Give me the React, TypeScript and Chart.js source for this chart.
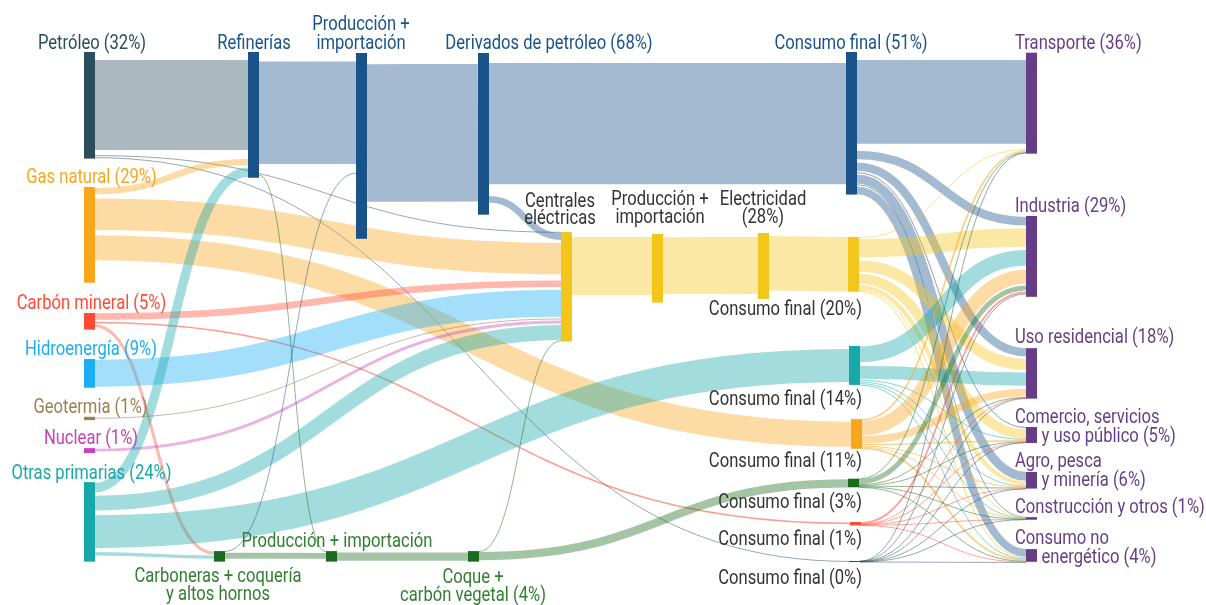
import React, { useEffect, useRef } from "react";
import { Chart, registerables } from "chart.js";

Chart.register(...registerables);

// ---------------- data ----------------
// energy in units of 1% of primary supply
const nodeIds = [
  "petroleo", "gas", "carbon", "hidro", "geotermia", "nuclear", "otras",
  "refinerias", "prodimp1", "derivados", "centrales", "prodimp2", "electricidad",
  "cf51", "cf20", "cf14", "cf11", "cf3", "cf1", "cf0",
  "transporte", "industria", "residencial", "comercio", "agro", "construccion", "noenergetico",
  "carboneras", "prodimp3", "coque",
];
const nodeValues = [
  32.3, 29.0, 5.05, 8.7, 1.0, 1.5, 24.1,
  38.1, 56.3, 49.0, 33.2, 20.8, 20.0,
  43.2, 16.6, 11.8, 9.0, 2.6, 1.0, 0.3,
  30.6, 24.5, 15.3, 4.85, 5.05, 0.8, 3.85,
  3.2, 3.2, 3.2,
];

const flows: [string, string, number][] = [
  ["petroleo", "refinerias", 27.3],
  ["petroleo", "centrales", 0.2],
  ["petroleo", "cf0", 0.25],
  ["gas", "refinerias", 1.9],
  ["gas", "centrales", 9.5],
  ["gas", "cf11", 7.6],
  ["carbon", "centrales", 2.0],
  ["carbon", "cf1", 0.45],
  ["carbon", "carboneras", 0.9],
  ["hidro", "centrales", 8.2],
  ["geotermia", "centrales", 0.3],
  ["nuclear", "centrales", 0.9],
  ["otras", "refinerias", 2.8],
  ["otras", "centrales", 4.5],
  ["otras", "cf14", 10.0],
  ["otras", "carboneras", 1.0],
  ["refinerias", "prodimp1", 31.0],
  ["refinerias", "prodimp3", 0.15],
  ["carboneras", "prodimp1", 0.15],
  ["carboneras", "prodimp3", 1.8],
  ["prodimp1", "derivados", 41.7],
  ["prodimp3", "coque", 2.5],
  ["derivados", "cf51", 36.8],
  ["derivados", "centrales", 2.1],
  ["coque", "centrales", 0.15],
  ["coque", "cf3", 2.5],
  ["centrales", "prodimp2", 17.6],
  ["prodimp2", "electricidad", 17.3],
  ["electricidad", "cf20", 16.5],
  ["cf51", "transporte", 25.4],
  ["cf51", "industria", 2.6],
  ["cf51", "residencial", 2.5],
  ["cf51", "comercio", 0.3],
  ["cf51", "agro", 2.7],
  ["cf51", "construccion", 0.2],
  ["cf51", "noenergetico", 2.4],
  ["cf20", "transporte", 0.25],
  ["cf20", "industria", 5.6],
  ["cf20", "residencial", 3.4],
  ["cf20", "comercio", 3.0],
  ["cf20", "agro", 1.3],
  ["cf20", "construccion", 0.15],
  ["cf20", "noenergetico", 0.3],
  ["cf14", "industria", 4.8],
  ["cf14", "residencial", 4.0],
  ["cf14", "comercio", 0.25],
  ["cf14", "agro", 0.25],
  ["cf14", "construccion", 0.12],
  ["cf14", "noenergetico", 0.2],
  ["cf11", "transporte", 0.5],
  ["cf11", "industria", 4.2],
  ["cf11", "residencial", 2.3],
  ["cf11", "comercio", 0.4],
  ["cf11", "agro", 0.3],
  ["cf11", "construccion", 0.12],
  ["cf11", "noenergetico", 0.5],
  ["cf3", "transporte", 0.15],
  ["cf3", "industria", 1.5],
  ["cf3", "residencial", 0.2],
  ["cf3", "comercio", 0.15],
  ["cf3", "agro", 0.15],
  ["cf3", "construccion", 0.1],
  ["cf3", "noenergetico", 0.15],
  ["cf1", "industria", 0.5],
  ["cf1", "residencial", 0.1],
  ["cf1", "comercio", 0.1],
  ["cf1", "agro", 0.1],
  ["cf1", "construccion", 0.05],
  ["cf1", "noenergetico", 0.1],
  ["cf0", "transporte", 0.05],
  ["cf0", "industria", 0.05],
  ["cf0", "residencial", 0.05],
  ["cf0", "comercio", 0.05],
  ["cf0", "agro", 0.05],
  ["cf0", "construccion", 0.05],
  ["cf0", "noenergetico", 0.05],
];

const labelTexts: [string, string][] = [
  ["Petróleo (32%)", "petroleo"],
  ["Refinerías", "azul"],
  ["Producción +", "azul"],
  ["importación", "azul"],
  ["Derivados de petróleo (68%)", "azul"],
  ["Consumo final (51%)", "azul"],
  ["Transporte (36%)", "sector"],
  ["Gas natural (29%)", "gas"],
  ["Carbón mineral (5%)", "carbon"],
  ["Hidroenergía (9%)", "hidro"],
  ["Geotermia (1%)", "geotermia"],
  ["Nuclear (1%)", "nuclear"],
  ["Otras primarias (24%)", "otras"],
  ["Centrales", "oscuro"],
  ["eléctricas", "oscuro"],
  ["Producción +", "oscuro"],
  ["importación", "oscuro"],
  ["Electricidad", "oscuro"],
  ["(28%)", "oscuro"],
  ["Consumo final (20%)", "oscuro"],
  ["Consumo final (14%)", "oscuro"],
  ["Consumo final (11%)", "oscuro"],
  ["Consumo final (3%)", "oscuro"],
  ["Consumo final (1%)", "oscuro"],
  ["Consumo final (0%)", "oscuro"],
  ["Carboneras + coquería", "verde"],
  ["y altos hornos", "verde"],
  ["Producción + importación", "verde"],
  ["Coque +", "verde"],
  ["carbón vegetal (4%)", "verde"],
  ["Industria (29%)", "sector"],
  ["Uso residencial (18%)", "sector"],
  ["Comercio, servicios", "sector"],
  ["y uso público (5%)", "sector"],
  ["Agro, pesca", "sector"],
  ["y minería (6%)", "sector"],
  ["Construcción y otros (1%)", "sector"],
  ["Consumo no", "sector"],
  ["energético (4%)", "sector"],
];

// ---------------- layout & style ----------------
const NODE_W = 11;
const nodeX = [
  84, 84, 84, 84, 84, 84, 84,
  248, 356, 478, 561, 652, 758,
  846, 848, 849, 851, 848, 850, 849,
  1026, 1026, 1026, 1026, 1026, 1026, 1026,
  214, 326, 468,
];
const nodeTop = [
  15.76, 56.67, 94.85, 108.8, 126.3, 135.8, 146.1,
  15.76, 16.06, 16.06, 70.3, 70.9, 70.6,
  15.76, 71.8, 104.85, 127.0, 145.06, 158.2, 170.0,
  15.97, 65.45, 105.5, 129.4, 143.0, 156.7, 166.4,
  167.0, 167.0, 167.0,
];
// gap before each flow in the source stack and in the target stack
const flowGaps: Record<string, [number, number]> = {
  "petroleo>refinerias": [2.4, 2.4],
  "petroleo>centrales": [1.6, 0],
  "petroleo>cf0": [0.4, 0],
  "gas>refinerias": [0.3, 2.7],
  "gas>centrales": [1.3, 0.9],
  "gas>cf11": [1.6, 0.8],
  "carbon>centrales": [0.05, 1.9],
  "carbon>cf1": [0.6, 0.15],
  "carbon>carboneras": [0.3, 0.15],
  "hidro>centrales": [0.2, 0.8],
  "geotermia>centrales": [0.3, 0.5],
  "nuclear>centrales": [0.15, 0.3],
  "otras>refinerias": [0.3, 0.7],
  "otras>centrales": [1.0, 0.5],
  "otras>cf14": [1.4, 0.9],
  "otras>carboneras": [1.2, 0.3],
  "refinerias>prodimp1": [2.9, 2.6],
  "refinerias>prodimp3": [3.3, 0.1],
  "carboneras>prodimp1": [0.05, 2.7],
  "carboneras>prodimp3": [0.3, 0.3],
  "prodimp1>derivados": [3.4, 3.3],
  "prodimp3>coque": [0.45, 0.4],
  "derivados>cf51": [3.0, 3.3],
  "derivados>centrales": [3.5, 0.1],
  "coque>centrales": [0.05, 0.2],
  "coque>cf3": [0.1, 0.2],
  "centrales>prodimp2": [1.5, 0.9],
  "prodimp2>electricidad": [1.0, 1.2],
  "electricidad>cf20": [0.9, 0.0],
  "cf51>transporte": [2.42, 2.2],
  "cf51>industria": [2.1, 0.3],
  "cf51>residencial": [1.0, 0],
  "cf51>comercio": [0.4, 0],
  "cf51>agro": [0.4, 0],
  "cf51>construccion": [0.3, 0],
  "cf51>noenergetico": [0.4, 0],
  "cf20>transporte": [0.1, 1.6],
  "cf20>industria": [0.3, 0.8],
  "cf20>residencial": [0.9, 0.7],
  "cf20>comercio": [0.6, 0.3],
  "cf20>agro": [0.4, 0.1],
  "cf20>construccion": [0.2, 0],
  "cf20>noenergetico": [0.2, 0.1],
  "cf14>industria": [0.15, 1.0],
  "cf14>residencial": [1.0, 0.8],
  "cf14>comercio": [0.3, 0.05],
  "cf14>agro": [0.3, 0.05],
  "cf14>construccion": [0.3, 0],
  "cf14>noenergetico": [0.3, 0.05],
  "cf11>transporte": [0.0, 0.1],
  "cf11>industria": [0.15, 1.2],
  "cf11>residencial": [0.3, 0.9],
  "cf11>comercio": [0.1, 0.05],
  "cf11>agro": [0.1, 0.05],
  "cf11>construccion": [0.1, 0],
  "cf11>noenergetico": [0.1, 0.05],
  "cf3>transporte": [0, 0.1],
  "cf3>industria": [0.05, 0.6],
  "cf3>residencial": [0.05, 0.2],
  "cf3>comercio": [0.05, 0.05],
  "cf3>agro": [0.05, 0.05],
  "cf3>construccion": [0.05, 0],
  "cf3>noenergetico": [0.05, 0.05],
  "cf1>industria": [0.05, 0.3],
  "cf1>residencial": [0.02, 0.05],
  "cf1>comercio": [0.02, 0.05],
  "cf1>agro": [0.02, 0.05],
  "cf1>construccion": [0.02, 0],
  "cf1>noenergetico": [0.02, 0.05],
  "cf0>transporte": [0, 0.1],
  "cf0>industria": [0, 0.2],
  "cf0>residencial": [0, 0.1],
  "cf0>comercio": [0, 0.05],
  "cf0>agro": [0, 0.05],
  "cf0>construccion": [0, 0],
  "cf0>noenergetico": [0, 0.05],
};
const flowColorOverride: Record<string, string> = {
  "refinerias>prodimp3": "verde",
  "carboneras>prodimp1": "azul",
};

const palette: Record<string, string> = {
  petroleo: "#2c4d5b",
  azul: "#1a528a",
  gas: "#f9a61b",
  carbon: "#ff4b34",
  hidro: "#1aaef5",
  geotermia: "#9c7f50",
  nuclear: "#c940b8",
  otras: "#17a8aa",
  amarillo: "#f4c51b",
  verde: "#1b6b1f",
  sector: "#663e86",
  oscuro: "#333333",
  verdeTexto: "#2f7f2f",
};
const nodeColorKey: Record<string, string> = {
  petroleo: "petroleo", gas: "gas", carbon: "carbon", hidro: "hidro", geotermia: "geotermia",
  nuclear: "nuclear", otras: "otras", refinerias: "azul", prodimp1: "azul", derivados: "azul",
  centrales: "amarillo", prodimp2: "amarillo", electricidad: "amarillo",
  cf51: "azul", cf20: "amarillo", cf14: "otras", cf11: "gas", cf3: "verde", cf1: "carbon", cf0: "petroleo",
  transporte: "sector", industria: "sector", residencial: "sector", comercio: "sector", agro: "sector",
  construccion: "sector", noenergetico: "sector", carboneras: "verde", prodimp3: "verde", coque: "verde",
};

// label anchors in canvas pixels: x, baseline y, align
const labelPos: [number, number, CanvasTextAlign][] = [
  [92, 49, "center"],
  [254, 49, "center"],
  [361, 30, "center"],
  [361, 49, "center"],
  [549, 49, "center"],
  [851, 49, "center"],
  [1015, 49, "left"],
  [91.5, 183, "center"],
  [91.5, 309, "center"],
  [91, 355, "center"],
  [90.5, 412.5, "center"],
  [91, 444, "center"],
  [91.5, 478.5, "center"],
  [560, 207, "center"],
  [560, 224, "center"],
  [660, 204.5, "center"],
  [660, 223, "center"],
  [763, 204.5, "center"],
  [763, 223, "center"],
  [862, 315, "right"],
  [862, 405, "right"],
  [862, 466.5, "right"],
  [862, 508, "right"],
  [862, 545, "right"],
  [862, 584, "right"],
  [218, 581.5, "center"],
  [218, 600, "center"],
  [337, 546.5, "center"],
  [473, 582.5, "center"],
  [473, 600.5, "center"],
  [1015, 212, "left"],
  [1015, 343, "left"],
  [1015, 423, "left"],
  [1041.5, 441.5, "left"],
  [1015, 466.5, "left"],
  [1041.5, 486, "left"],
  [1015, 512.5, "left"],
  [1015, 544, "left"],
  [1041.5, 562.5, "left"],
];
const FONT = "20px Roboto, 'DejaVu Sans', sans-serif";
const TEXT_SCALE_X = 0.83;

function rgba(hex: string, a: number) {
  const n = parseInt(hex.slice(1), 16);
  return `rgba(${(n >> 16) & 255},${(n >> 8) & 255},${n & 255},${a})`;
}

const sankeyPlugin = {
  id: "sankeyPlugin",
  afterDraw(chart: any) {
    const ctx: CanvasRenderingContext2D = chart.ctx;
    const xs = chart.scales.x;
    const ys = chart.scales.y;
    const idx: Record<string, number> = {};
    nodeIds.forEach((id, i) => (idx[id] = i));
    const px = (v: number) => xs.getPixelForValue(v);
    const py = (v: number) => ys.getPixelForValue(v);
    const hpx = (v: number) => Math.abs(ys.getPixelForValue(v) - ys.getPixelForValue(0));

    // stacking
    const outs: number[][] = nodeIds.map(() => []);
    const ins: number[][] = nodeIds.map(() => []);
    flows.forEach((f, i) => {
      outs[idx[f[0]]].push(i);
      ins[idx[f[1]]].push(i);
    });
    const sy: number[] = new Array(flows.length).fill(0);
    const ty: number[] = new Array(flows.length).fill(0);
    outs.forEach((list, n) => {
      list.sort((a, b) => nodeTop[idx[flows[a][1]]] - nodeTop[idx[flows[b][1]]]);
      let c = nodeTop[n];
      list.forEach((i) => {
        const key = flows[i][0] + ">" + flows[i][1];
        const g = flowGaps[key] ? flowGaps[key][0] : 0;
        c += g;
        sy[i] = c + flows[i][2] / 2;
        c += flows[i][2];
      });
    });
    ins.forEach((list, n) => {
      list.sort((a, b) => nodeTop[idx[flows[a][0]]] - nodeTop[idx[flows[b][0]]]);
      let c = nodeTop[n];
      list.forEach((i) => {
        const key = flows[i][0] + ">" + flows[i][1];
        const g = flowGaps[key] ? flowGaps[key][1] : 0;
        c += g;
        ty[i] = c + flows[i][2] / 2;
        c += flows[i][2];
      });
    });

    ctx.save();
    // links
    flows.forEach((f, i) => {
      const s = idx[f[0]];
      const t = idx[f[1]];
      const key = f[0] + ">" + f[1];
      const colKey = flowColorOverride[key] || nodeColorKey[f[0]];
      const w = Math.max(hpx(f[2]), 0.9);
      const x0 = px(nodeX[s] + NODE_W);
      const x1 = px(nodeX[t]);
      const y0 = py(sy[i]);
      const y1 = py(ty[i]);
      const xm = (x0 + x1) / 2;
      ctx.beginPath();
      ctx.moveTo(x0, y0);
      ctx.bezierCurveTo(xm, y0, xm, y1, x1, y1);
      ctx.lineWidth = w;
      ctx.lineCap = "butt";
      ctx.strokeStyle = rgba(palette[colKey], w < 2.5 ? 0.55 : 0.4);
      ctx.stroke();
    });
    // nodes
    nodeIds.forEach((id, n) => {
      const x0 = px(nodeX[n]);
      const x1 = px(nodeX[n] + NODE_W);
      const y0 = py(nodeTop[n]);
      const h = Math.max(hpx(nodeValues[n]), 1);
      ctx.fillStyle = palette[nodeColorKey[id]];
      ctx.fillRect(x0, y0, x1 - x0, h);
    });
    // labels
    ctx.font = FONT;
    ctx.textBaseline = "alphabetic";
    labelTexts.forEach(([text, colKey], i) => {
      const [x, y, align] = labelPos[i];
      ctx.save();
      ctx.translate(x, y);
      ctx.scale(TEXT_SCALE_X, 1);
      ctx.textAlign = align;
      ctx.fillStyle = colKey === "verde" ? palette.verdeTexto : palette[colKey];
      ctx.fillText(text, 0, 0);
      ctx.restore();
    });
    ctx.restore();
  },
};

export default function App() {
  const ref = useRef<HTMLCanvasElement | null>(null);
  useEffect(() => {
    if (!ref.current) return;
    const chart = new Chart(ref.current, {
      type: "scatter",
      data: { datasets: [{ data: [], showLine: false }] },
      options: {
        responsive: false,
        animation: false,
        devicePixelRatio: 1,
        events: [],
        layout: { padding: 0 },
        plugins: { legend: { display: false }, tooltip: { enabled: false } },
        scales: {
          x: { type: "linear", min: 0, max: 1206, display: false },
          y: { type: "linear", min: 0, max: 605 / 3.3, reverse: true, display: false },
        },
      },
      plugins: [sankeyPlugin],
    });
    return () => chart.destroy();
  }, []);
  return (
    <div style={{ position: "absolute", left: 0, top: 0, width: 1206, height: 605, background: "#fff" }}>
      <canvas ref={ref} width={1206} height={605} />
    </div>
  );
}
